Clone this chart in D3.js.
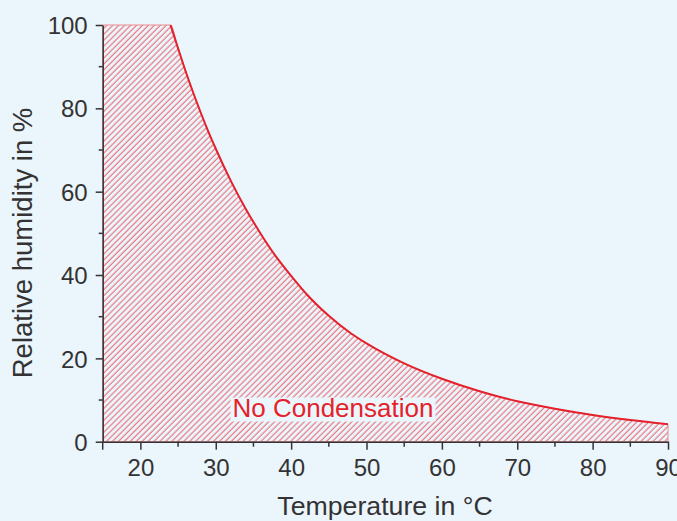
<!DOCTYPE html>
<html>
<head>
<meta charset="utf-8">
<script src="https://cdn.jsdelivr.net/npm/d3@7"></script>
<style>
  html, body { margin: 0; padding: 0; background: #ebf5fc; }
  svg { display: block; font-family: "Liberation Sans", Arial, sans-serif; }
</style>
</head>
<body>
<div id="chart"></div>
<script>
// temperature (°C) and max relative humidity (%)
const temps = [15, 24, 25, 26, 27, 28, 29, 30, 32, 34, 36, 38, 40, 42, 45, 48, 50, 55, 60, 65, 70, 75, 80, 85, 90];
const humidity = [100, 100, 94.4, 88.9, 83.8, 79.0, 74.5, 70.3, 62.6, 55.8, 49.8, 44.4, 39.8, 35.5, 30.2, 25.9, 23.6, 18.8, 15.1, 12.1, 9.7, 7.9, 6.4, 5.2, 4.2];
const xTicks = [20, 30, 40, 50, 60, 70, 80, 90];
const xMinor = [25, 35, 45, 55, 65, 75, 85];
const yTicks = [0, 20, 40, 60, 80, 100];
const yMinor = [10, 30, 50, 70, 90];

const dataset = temps.map((t, i) => [t, humidity[i]]);

const width = 677;
const height = 521;
const margin = { left: 102.7, right: 9, top: 25, bottom: 79.3 };

const svg = d3.select('#chart')
  .append('svg')
  .attr('width', width)
  .attr('height', height);

svg.append('rect')
  .attr('width', width)
  .attr('height', height)
  .attr('fill', '#ebf5fc');

const xScale = d3.scaleLinear()
  .domain([15, 90])
  .range([margin.left, width - margin.right]);

const yScale = d3.scaleLinear()
  .domain([0, 100])
  .range([height - margin.bottom, margin.top]);

// hatch pattern
const defs = svg.append('defs');
defs.append('pattern')
  .attr('id', 'hatch')
  .attr('patternUnits', 'userSpaceOnUse')
  .attr('width', 4.2)
  .attr('height', 4.2)
  .attr('patternTransform', 'rotate(45)')
  .append('line')
  .attr('x1', 1).attr('y1', 0)
  .attr('x2', 1).attr('y2', 4.2)
  .attr('stroke', '#e8505b')
  .attr('stroke-width', 0.9);

const area = d3.area()
  .x(d => xScale(d[0]))
  .y0(yScale(0))
  .y1(d => yScale(d[1]))
  .curve(d3.curveMonotoneX);

svg.append('path')
  .datum(dataset)
  .attr('d', area)
  .attr('fill', 'url(#hatch)')
  .attr('stroke', '#ee8a90')
  .attr('stroke-width', 1);

const line = d3.line()
  .x(d => xScale(d[0]))
  .y(d => yScale(d[1]))
  .curve(d3.curveMonotoneX);

svg.append('path')
  .datum(dataset.filter(d => d[0] >= 24))
  .attr('d', line)
  .attr('fill', 'none')
  .attr('stroke', '#e3222b')
  .attr('stroke-width', 2);

// label with background box
const label = svg.append('g');
const labelBox = label.append('rect')
  .attr('fill', '#ebf5fc');
const labelText = label.append('text')
  .attr('x', 232.5)
  .attr('y', 417.3)
  .attr('fill', '#e3222b')
  .attr('font-size', 26)
  .text('No Condensation');
const bb = labelText.node().getBBox();
labelBox
  .attr('x', bb.x - 2)
  .attr('y', 397.5)
  .attr('width', bb.width + 4)
  .attr('height', 24);

// axes
const xAxis = d3.axisBottom(xScale)
  .tickValues(xTicks)
  .tickSize(8)
  .tickPadding(8)
  .tickSizeOuter(0);

const gx = svg.append('g')
  .attr('id', 'x-axis')
  .attr('transform', `translate(0, ${yScale(0)})`)
  .call(xAxis);

gx.selectAll('.minor')
  .data(xMinor.concat([15]))
  .enter()
  .append('line')
  .attr('class', 'minor')
  .attr('x1', d => xScale(d))
  .attr('x2', d => xScale(d))
  .attr('y1', 0)
  .attr('y2', d => d === 15 ? 8 : 5);

const yAxis = d3.axisLeft(yScale)
  .tickValues(yTicks)
  .tickSize(7)
  .tickPadding(8)
  .tickSizeOuter(0);

const gy = svg.append('g')
  .attr('id', 'y-axis')
  .attr('transform', `translate(${xScale(15)}, 0)`)
  .call(yAxis);

gy.selectAll('.minor')
  .data(yMinor)
  .enter()
  .append('line')
  .attr('class', 'minor')
  .attr('x1', 0)
  .attr('x2', -4)
  .attr('y1', d => yScale(d))
  .attr('y2', d => yScale(d));

svg.selectAll('#x-axis path, #y-axis path, #x-axis line, #y-axis line')
  .attr('stroke', '#333')
  .attr('stroke-width', 1.5);

svg.selectAll('#x-axis text, #y-axis text')
  .attr('fill', '#333')
  .attr('font-size', 24)
  .attr('font-family', '"Liberation Sans", Arial, sans-serif');

gx.selectAll('.tick text').attr('dy', null).attr('y', 34.5);
gy.selectAll('.tick text').attr('dy', '0.36em');

// axis titles
svg.append('text')
  .attr('x', 385)
  .attr('y', 514.5)
  .attr('text-anchor', 'middle')
  .attr('fill', '#333')
  .attr('font-size', 26.7)
  .text('Temperature in °C');

svg.append('text')
  .attr('transform', 'translate(32, 243) rotate(-90)')
  .attr('text-anchor', 'middle')
  .attr('fill', '#333')
  .attr('font-size', 27.5)
  .text('Relative humidity in %');
</script>
</body>
</html>
